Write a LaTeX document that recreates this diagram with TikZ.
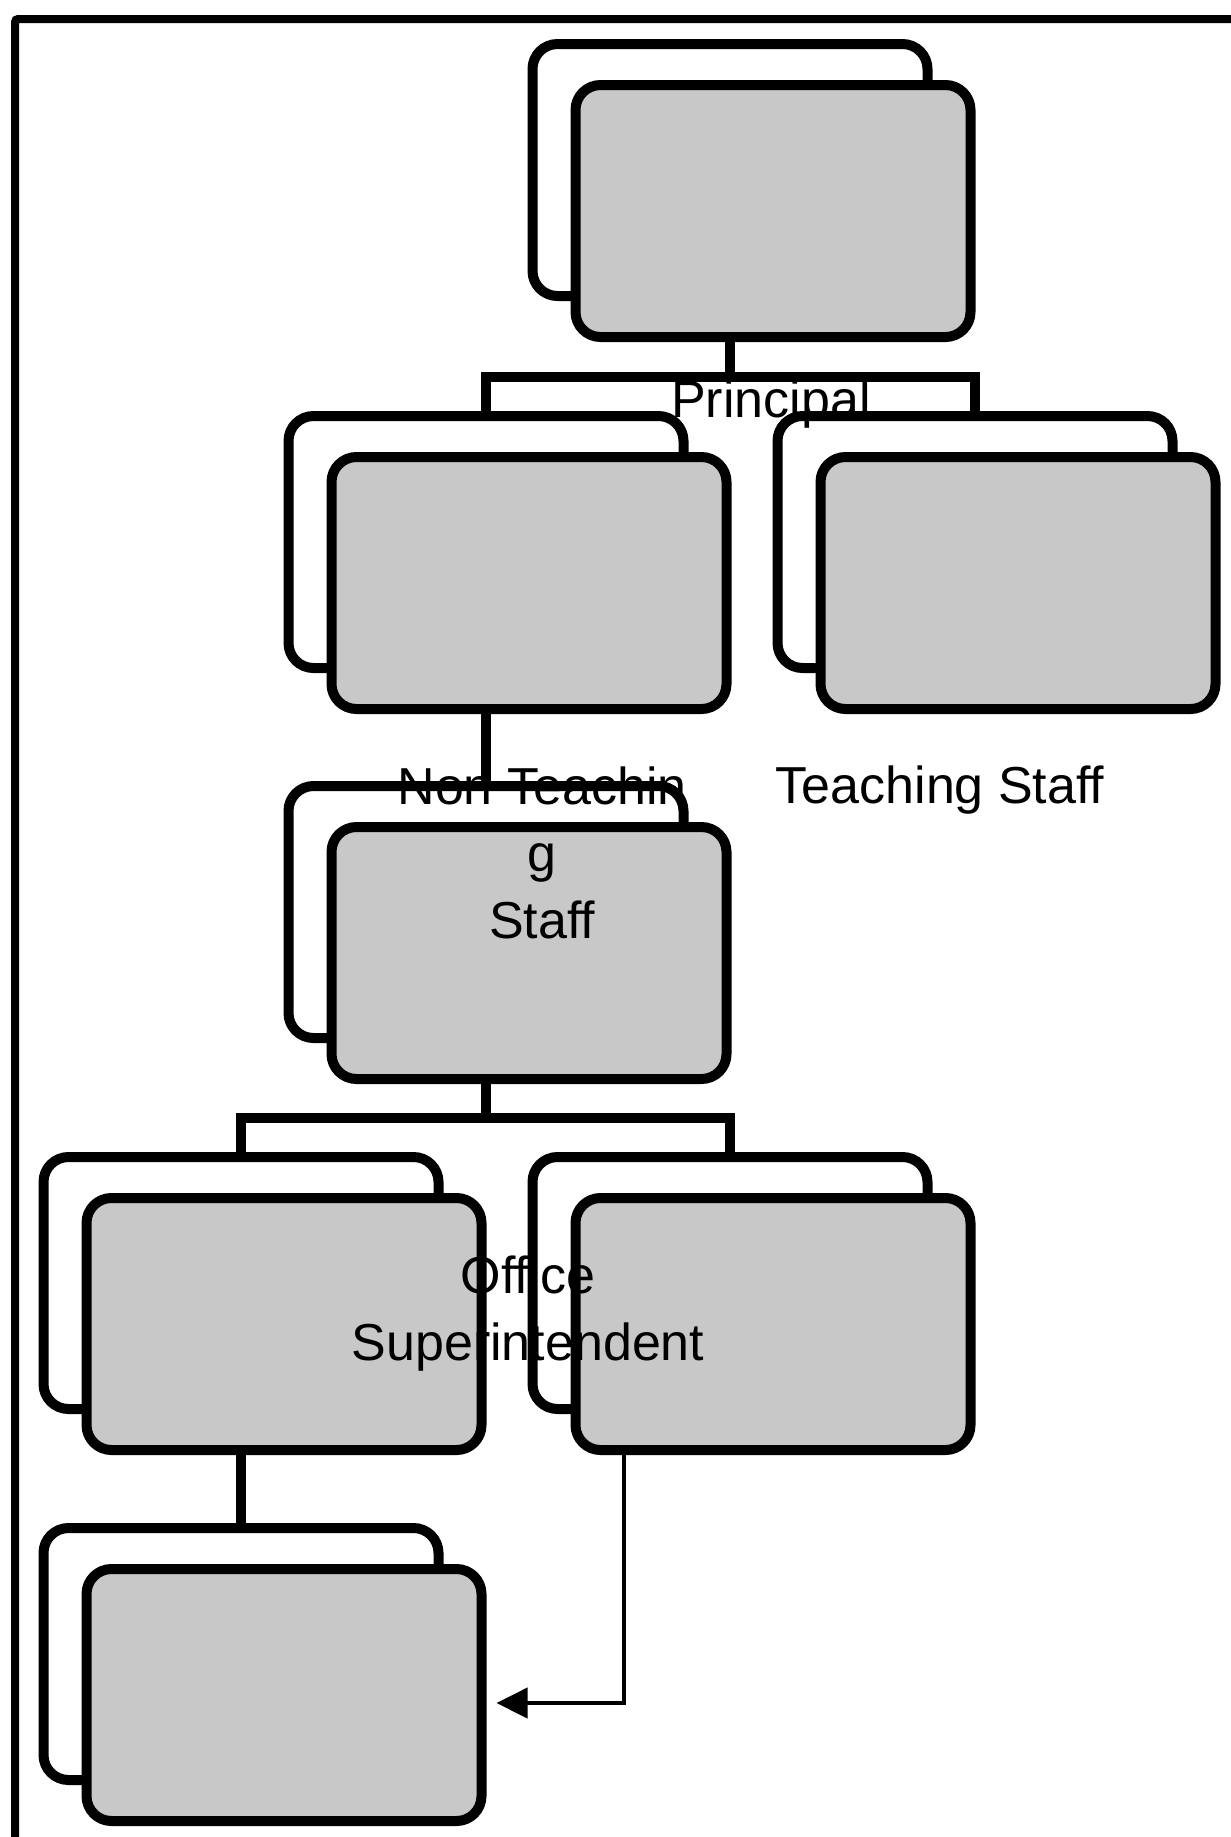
\documentclass[tikz,border=0pt]{standalone}
\usepackage{fontspec}
\setmainfont{Liberation Sans}
\usetikzlibrary{arrows.meta}
\definecolor{boxgray}{RGB}{200,200,200}
\def\orgbox(#1)(#2,#3){\node[backbox] (#1b) at (#2,#3) {};\node[frontbox] (#1) at (#2+43,#3+41) {};}
\tikzset{
	backbox/.style={draw, line width=10pt, fill=white, rounded corners=25pt, minimum width=395pt, minimum height=252pt, inner sep=0pt, outer sep=0pt},
	frontbox/.style={backbox, fill=boxgray},
	link/.style={line width=10pt},
	arrowlink/.style={line width=4pt, -{Triangle[length=31pt,width=30pt]}},
	lbl/.style={font=\fontsize{52}{67}\selectfont, align=center, inner sep=0pt, anchor=base}
}

\begin{document}
\begin{tikzpicture}[x=1pt,y=-1pt]
			%%%%% START %%%%%
			\useasboundingbox (0,0) rectangle (1231,1837);
			
			\draw[line width=8pt, rounded corners=3pt] (15,1845) -- (15,19) -- (1245,19);
			
			\orgbox(boxA)(730,170)
			\orgbox(boxB1)(486,542)
			\orgbox(boxB2)(975,542)
			\orgbox(boxC)(486,912)
			\orgbox(boxD1)(241,1283)
			\orgbox(boxD2)(730,1283)
			\orgbox(boxE)(241,1654)
			
			\coordinate (barA) at (730,377);
			\coordinate (barC) at (486,1118);
			
			\draw[link] (boxAb.south |- boxA.south) -- (barA);
			\draw[link] (boxB1b.north) |- (barA) -| (boxB2b.north);
			\draw[link] (boxB1b.south |- boxB1.south) -- (boxCb.north);
			\draw[link] (boxCb.south |- boxC.south) -- (barC);
			\draw[link] (boxD1b.north) |- (barC) -| (boxD2b.north);
			\draw[link] (boxD1b.south |- boxD1.south) -- (boxEb.north);
			
			\draw[arrowlink] ([xshift=48pt]boxD2.south west) |- ([xshift=15pt,yshift=-8pt]boxE.east);
			
			\node[lbl] (lblA) at (771,417) {Principal};
			\node[lbl] (lblB1) at (542,938) {Non Teachin\\g\\Staff};
			\node[lbl] (lblB2) at (940,803) {Teaching Staff};
			\node[lbl] (lblC) at (528,1360) {Office\\Superintendent};
			
			%%%%% END %%%%%
\end{tikzpicture}
\end{document}
